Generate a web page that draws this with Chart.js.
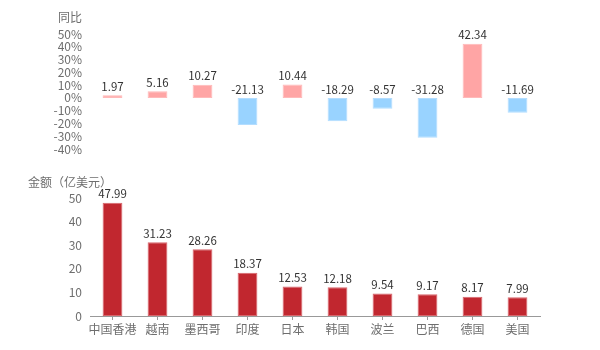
<!DOCTYPE html>
<html>
<head>
<meta charset="utf-8">
<script src="https://cdn.jsdelivr.net/npm/chart.js@4/dist/chart.umd.min.js"></script>
<style>
  body { margin: 0; background: #fff; }
  .wrap { position: relative; width: 600px; height: 350px; }
  #yoyChart { position: absolute; left: 0; top: 0; }
  #amountChart { position: absolute; left: 0; top: 165px; }
</style>
</head>
<body>
<div class="wrap">
  <canvas id="yoyChart" width="600" height="165"></canvas>
  <canvas id="amountChart" width="600" height="185"></canvas>
</div>
<script>
const countries = ['中国香港', '越南', '墨西哥', '印度', '日本', '韩国', '波兰', '巴西', '德国', '美国'];
const yoyValues = [1.97, 5.16, 10.27, -21.13, 10.44, -18.29, -8.57, -31.28, 42.34, -11.69];
const amountValues = [47.99, 31.23, 28.26, 18.37, 12.53, 12.18, 9.54, 9.17, 8.17, 7.99];
const yoyTicks = [-40, 50, 10];
const amountTicks = [0, 50, 10];

const fontFamily = '"Noto Sans CJK SC", "Noto Sans", sans-serif';
Chart.defaults.font.family = fontFamily;
Chart.defaults.font.size = 12;
Chart.defaults.color = '#6e6e6e';
Chart.defaults.animation = false;

// draws value labels above each bar and the axis caption
const barLabels = (title) => ({
    id: 'barLabels',
    afterDatasetsDraw(chart) {
        const ctx = chart.ctx;
        ctx.save();
        ctx.font = '11.5px ' + fontFamily;
        ctx.fillStyle = '#333';
        ctx.textAlign = 'center';
        ctx.textBaseline = 'bottom';
        const ds = chart.data.datasets[0];
        chart.getDatasetMeta(0).data.forEach((bar, i) => {
            const top = Math.min(bar.y, bar.base);
            ctx.fillText(ds.data[i].toFixed(2), bar.x, top - 3);
        });
        ctx.font = '12px ' + fontFamily;
        ctx.fillStyle = '#6e6e6e';
        ctx.textAlign = title.align;
        ctx.textBaseline = 'middle';
        ctx.fillText(title.text, title.x, title.y);
        ctx.restore();
    }
});

new Chart(document.getElementById('yoyChart').getContext('2d'), {
    type: 'bar',
    data: {
        labels: countries,
        datasets: [{
            data: yoyValues,
            backgroundColor: yoyValues.map(v => v >= 0 ? '#ffa5a5' : '#99d3ff'),
            borderColor: yoyValues.map(v => v >= 0 ? '#ffb9b9' : '#b3ddff'),
            borderWidth: 1,
            borderSkipped: false,
            barPercentage: 0.44,
            categoryPercentage: 1
        }]
    },
    options: {
        responsive: false,
        layout: { padding: { left: 0, right: 60, top: 34, bottom: 16 } },
        plugins: { legend: { display: false }, tooltip: { enabled: false } },
        scales: {
            x: { display: false },
            y: {
                min: yoyTicks[0],
                max: yoyTicks[1],
                grid: { display: false, drawTicks: false },
                border: { display: false },
                ticks: { stepSize: yoyTicks[2], padding: 8, autoSkip: false, callback: v => v + '%' },
                afterFit: scale => { scale.width = 90; }
            }
        }
    },
    plugins: [barLabels({ text: '同比', x: 82, y: 17, align: 'right' })]
});

new Chart(document.getElementById('amountChart').getContext('2d'), {
    type: 'bar',
    data: {
        labels: countries,
        datasets: [{
            data: amountValues,
            backgroundColor: '#c1272f',
            borderColor: '#d8666c',
            borderWidth: 1,
            borderSkipped: false,
            barPercentage: 0.44,
            categoryPercentage: 1
        }]
    },
    options: {
        responsive: false,
        layout: { padding: { left: 0, right: 60, top: 33, bottom: 9 } },
        plugins: { legend: { display: false }, tooltip: { enabled: false } },
        scales: {
            x: {
                grid: { display: true, drawOnChartArea: false, offset: false, tickLength: 4, color: '#999' },
                border: { display: true, color: '#999' },
                ticks: { padding: 2, autoSkip: false, maxRotation: 0 },
                afterFit: scale => { scale.height = 25; }
            },
            y: {
                min: amountTicks[0],
                max: amountTicks[1],
                grid: { display: false, drawTicks: false },
                border: { display: false },
                ticks: { stepSize: amountTicks[2], padding: 8, autoSkip: false },
                afterFit: scale => { scale.width = 90; }
            }
        }
    },
    plugins: [barLabels({ text: '金额（亿美元）', x: 28, y: 17, align: 'left' })]
});
</script>
</body>
</html>
